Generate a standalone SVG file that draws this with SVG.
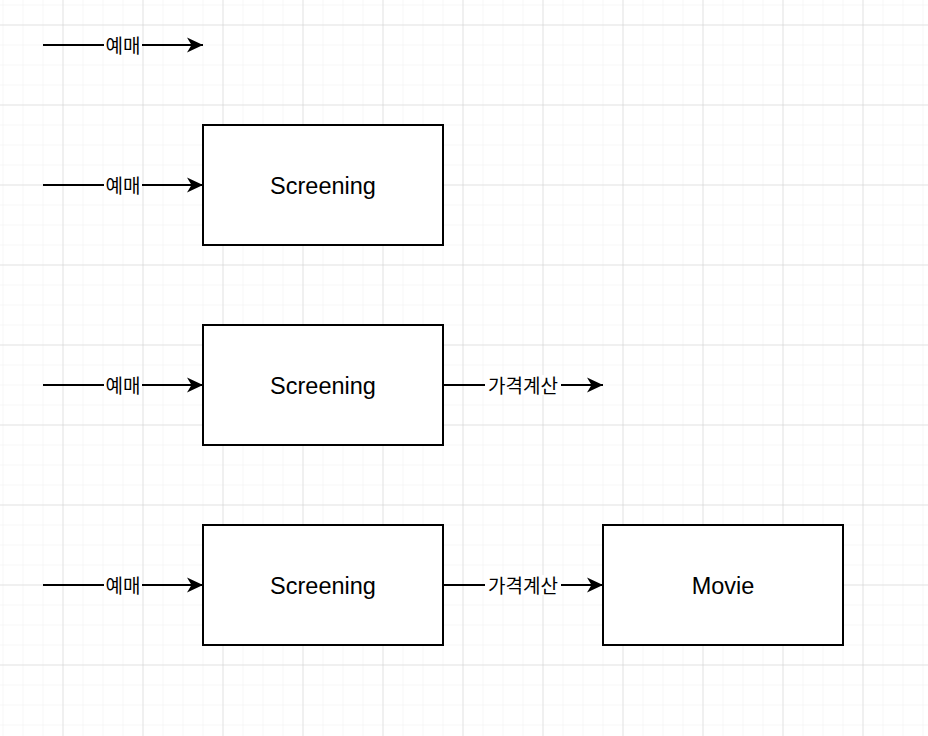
<svg xmlns="http://www.w3.org/2000/svg" width="928" height="736" viewBox="0 0 928 736">
<defs>
<pattern id="minor" x="2.5" y="4.5" width="20" height="20" patternUnits="userSpaceOnUse">
<path d="M0 0H20M0 0V20" fill="none" stroke="#eeeeee" stroke-width="1"/>
</pattern>
<pattern id="major" x="62.5" y="24.5" width="80" height="80" patternUnits="userSpaceOnUse">
<path d="M0 0H80M0 0V80" fill="none" stroke="#cfcfcf" stroke-width="1"/>
</pattern>
<marker id="arr" markerWidth="18" markerHeight="16" refX="16" refY="8" orient="auto" markerUnits="userSpaceOnUse">
<path d="M0 0.5L16 8L0 15.5L4.5 8Z" fill="#000"/>
</marker>
</defs>
<style>
.node rect{fill:#fff;stroke:#000;stroke-width:2}
.node text{font-family:Helvetica,"Liberation Sans",Arial,sans-serif;font-size:23.5px;fill:#000;text-anchor:middle;dominant-baseline:central}
.edge line{stroke:#000;stroke-width:2;marker-end:url(#arr)}
.lbl{font-family:"Noto Sans CJK KR","Noto Sans",sans-serif;font-size:19px;fill:#000;text-anchor:middle;dominant-baseline:central}
.lbg{fill:#fff}
</style>
<rect width="928" height="736" fill="#fff"/>
<rect width="928" height="736" fill="url(#minor)"/>
<rect width="928" height="736" fill="url(#major)"/>
<g id="connectors" class="edge">
<line x1="43" y1="45" x2="203" y2="45"/>
<line x1="43" y1="185" x2="203" y2="185"/>
<line x1="43" y1="385" x2="203" y2="385"/>
<line x1="443" y1="385" x2="603" y2="385"/>
<line x1="43" y1="585" x2="203" y2="585"/>
<line x1="443" y1="585" x2="603" y2="585"/>
<rect class="lbg" x="104" y="35" width="38" height="20"/>
<text class="lbl" x="123" y="44">예매</text>
<rect class="lbg" x="104" y="175" width="38" height="20"/>
<text class="lbl" x="123" y="184">예매</text>
<rect class="lbg" x="104" y="375" width="38" height="20"/>
<text class="lbl" x="123" y="384">예매</text>
<rect class="lbg" x="485" y="375" width="76" height="20"/>
<text class="lbl" x="523" y="384">가격계산</text>
<rect class="lbg" x="104" y="575" width="38" height="20"/>
<text class="lbl" x="123" y="584">예매</text>
<rect class="lbg" x="485" y="575" width="76" height="20"/>
<text class="lbl" x="523" y="584">가격계산</text>
</g>
<g id="screening1" class="node"><rect x="203" y="125" width="240" height="120"/><text x="323" y="186">Screening</text></g>
<g id="screening2" class="node"><rect x="203" y="325" width="240" height="120"/><text x="323" y="386">Screening</text></g>
<g id="screening3" class="node"><rect x="203" y="525" width="240" height="120"/><text x="323" y="586">Screening</text></g>
<g id="movie" class="node"><rect x="603" y="525" width="240" height="120"/><text x="723" y="586">Movie</text></g>
</svg>
